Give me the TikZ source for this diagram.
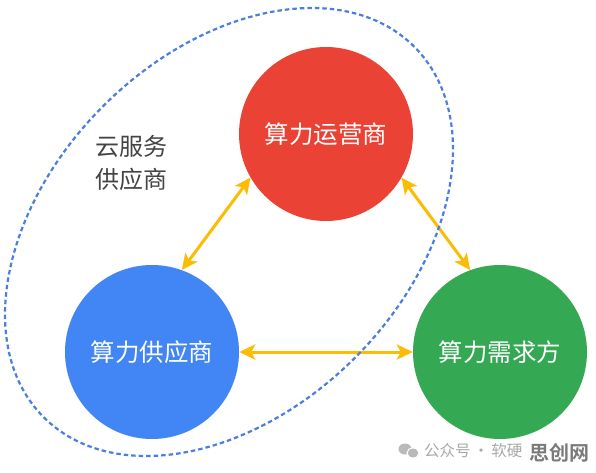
\documentclass[tikz,border=0pt]{standalone}
\usepackage{fontspec}
\newfontfamily\cjk{Noto Sans CJK SC}
\newfontfamily\cjkb{Noto Sans CJK SC Bold}
\usetikzlibrary{arrows.meta}
\definecolor{gred}{HTML}{EA4335}
\definecolor{gblue}{HTML}{4285F4}
\definecolor{ggreen}{HTML}{34A853}
\definecolor{ggold}{HTML}{FBBC04}
\definecolor{dashblue}{HTML}{4A7FE0}
\definecolor{txtgray}{HTML}{444444}
\definecolor{wmgray}{HTML}{A8A8A8}
\definecolor{wmdark}{HTML}{7A7A7A}
\tikzset{
  party/.style={circle, minimum size=174pt, inner sep=0pt, text=white,
    font=\cjk\fontsize{24.5pt}{28pt}\selectfont},
  link/.style={draw=ggold, line width=3pt,
    {Stealth[length=16pt,width=15pt,inset=4pt]}-{Stealth[length=16pt,width=15pt,inset=4pt]}},
  cloud/.style={draw=dashblue, line width=2.2pt, dash pattern=on 4.5pt off 3pt},
  lbl/.style={text=txtgray, align=center, font=\cjk\fontsize{24pt}{33pt}\selectfont}
}
\begin{document}
\begin{tikzpicture}[x=1pt,y=-1pt]
\useasboundingbox (0,0) rectangle (596,473);
\fill[white] (0,0) rectangle (596,473);

\node[party, fill=gred]   (op)  at (326,134) {算力运营商};
\node[party, fill=gblue]  (sup) at (152,352) {算力供应商};
\node[party, fill=ggreen] (dem) at (500,352) {算力需求方};

\draw[link] (op.210) -- (sup.70);
\draw[link] (op.330) -- (dem.110);
\draw[link] (sup.east) -- (dem.west);

\draw[cloud, rotate around={45:(229,232)}] (229,232) ellipse [x radius=262pt, y radius=178pt];

\node[lbl] (cs) at (131,163) {云服务\\供应商};

% watermark
\fill[wmgray!80] (405,449) ellipse [x radius=6.5pt, y radius=5.5pt];
\fill[wmgray!80, draw=white, line width=1pt] (413,453) ellipse [x radius=6pt, y radius=5pt];
\node[anchor=west, text=wmgray, inner sep=0pt, font=\cjk\fontsize{15.5pt}{18pt}\selectfont] (wm) at (424,451) {公众号\,·\,软硬};
\node[anchor=west, text=wmdark, inner sep=0pt, font=\cjkb\fontsize{20pt}{22pt}\selectfont] (wm2) at (529,453) {思创网};
\end{tikzpicture}
\end{document}
